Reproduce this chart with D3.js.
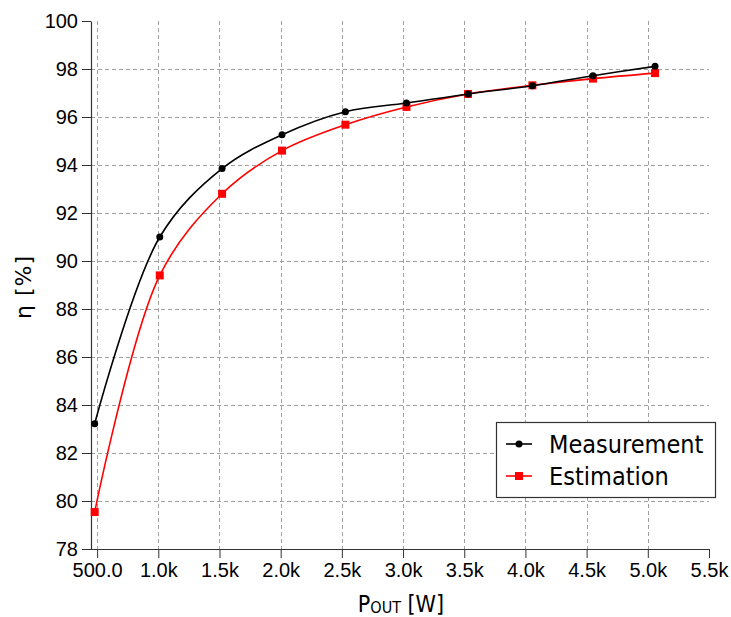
<!DOCTYPE html>
<html>
<head>
<meta charset="utf-8">
<script src="https://cdn.jsdelivr.net/npm/d3@7"></script>
<style>
  body { margin: 0; background: #fff; }
  svg { font-family: "DejaVu Sans Condensed", "DejaVu Sans", sans-serif; }
</style>
</head>
<body>
<div id="chart"></div>
<script>
// Output power [W] and efficiency [%]
const pOut = [480, 1012, 1521, 2011, 2529, 3028, 3531, 4057, 4552, 5059];
const measurement = [83.22, 91.0, 93.85, 95.26, 96.22, 96.58, 96.96, 97.30, 97.72, 98.11];
const estimation = [79.54, 89.4, 92.8, 94.6, 95.68, 96.42, 96.96, 97.32, 97.6, 97.83];
const xTicks = [500, 1000, 1500, 2000, 2500, 3000, 3500, 4000, 4500, 5000, 5500];
const yTicks = [78, 80, 82, 84, 86, 88, 90, 92, 94, 96, 98, 100];

const width = 731;
const height = 617;
const plotL = 91, plotR = 709, plotT = 21, plotB = 549;

const svg = d3.select('#chart').append('svg')
  .attr('width', width)
  .attr('height', height);

const x = d3.scaleLinear().domain([450, 5500]).range([plotL, plotR]);
const y = d3.scaleLinear().domain([78, 100]).range([plotB, plotT]);

const fmtX = v => v < 1000 ? d3.format('.1f')(v) : (v / 1000).toFixed(1) + 'k';

// grid
const grid = svg.append('g')
  .attr('stroke', '#a0a0a0')
  .attr('stroke-width', 1)
  .attr('stroke-dasharray', '4,3');
grid.selectAll('line.v')
  .data(xTicks.filter(d => d < 5500))
  .join('line')
  .attr('x1', d => Math.round(x(d)) + 0.5)
  .attr('x2', d => Math.round(x(d)) + 0.5)
  .attr('y1', plotT)
  .attr('y2', plotB);
grid.selectAll('line.h')
  .data(yTicks.filter(d => d > 78 && d < 100))
  .join('line')
  .attr('x1', plotL)
  .attr('x2', plotR)
  .attr('y1', d => Math.round(y(d)) + 0.5)
  .attr('y2', d => Math.round(y(d)) + 0.5);

// axes
const xAxis = svg.append('g')
  .attr('transform', `translate(0,${plotB})`)
  .call(d3.axisBottom(x).tickValues(xTicks).tickFormat(fmtX).tickSize(9).tickSizeOuter(0).tickPadding(5));
const yAxis = svg.append('g')
  .attr('transform', `translate(${plotL},0)`)
  .call(d3.axisLeft(y).tickValues(yTicks).tickSize(9).tickSizeOuter(0).tickPadding(4));

[xAxis, yAxis].forEach(a => {
  a.select('.domain').attr('stroke', '#333').attr('stroke-width', 1.2);
  a.selectAll('.tick line').attr('stroke', '#333');
  a.selectAll('.tick text').attr('font-size', 20).attr('fill', '#000');
});
xAxis.select('.domain').attr('d', `M${plotL},0.5H${plotR}`);

// axis titles
svg.append('text')
  .attr('transform', 'translate(31,287) rotate(-90)')
  .attr('text-anchor', 'middle')
  .attr('font-family', '"DejaVu Sans", sans-serif')
  .attr('font-size', 22)
  .attr('letter-spacing', 1)
  .text('η [%]');

const xt = svg.append('text')
  .attr('x', 401)
  .attr('y', 612)
  .attr('text-anchor', 'middle')
  .attr('font-size', 23);
xt.append('tspan').text('P');
xt.append('tspan').attr('font-size', 16).attr('dy', 1).text('OUT');
xt.append('tspan').attr('dy', -1).text(' [W]');

// series
const line = d3.line()
  .x(d => x(d[0]))
  .y(d => y(d[1]))
  .curve(d3.curveCatmullRom.alpha(0.5));

const mPts = pOut.map((p, i) => [p, measurement[i]]);
const ePts = pOut.map((p, i) => [p, estimation[i]]);

svg.append('path')
  .datum(ePts)
  .attr('fill', 'none')
  .attr('stroke', '#ff0000')
  .attr('stroke-width', 1.6)
  .attr('d', line);
svg.append('g').selectAll('rect')
  .data(ePts)
  .join('rect')
  .attr('x', d => x(d[0]) - 4)
  .attr('y', d => y(d[1]) - 4)
  .attr('width', 8)
  .attr('height', 8)
  .attr('fill', '#ff0000');

svg.append('path')
  .datum(mPts)
  .attr('fill', 'none')
  .attr('stroke', '#000')
  .attr('stroke-width', 1.6)
  .attr('d', line);
svg.append('g').selectAll('circle')
  .data(mPts)
  .join('circle')
  .attr('cx', d => x(d[0]))
  .attr('cy', d => y(d[1]))
  .attr('r', 3.5)
  .attr('fill', '#000');

// legend
const legend = svg.append('g');
legend.append('rect')
  .attr('x', 496.5)
  .attr('y', 422.5)
  .attr('width', 219)
  .attr('height', 75)
  .attr('fill', '#fff')
  .attr('stroke', '#333')
  .attr('stroke-width', 1.2);
const items = [
  { name: 'Measurement', color: '#000', shape: 'circle', y: 444 },
  { name: 'Estimation', color: '#ff0000', shape: 'square', y: 476 },
];
items.forEach(it => {
  legend.append('line')
    .attr('x1', 506).attr('x2', 532)
    .attr('y1', it.y).attr('y2', it.y)
    .attr('stroke', it.color).attr('stroke-width', 1.6);
  if (it.shape === 'circle') {
    legend.append('circle').attr('cx', 519).attr('cy', it.y).attr('r', 3.5).attr('fill', it.color);
  } else {
    legend.append('rect').attr('x', 515).attr('y', it.y - 4).attr('width', 8).attr('height', 8).attr('fill', it.color);
  }
  legend.append('text')
    .attr('x', 549)
    .attr('y', it.y + 9)
    .attr('font-size', 25)
    .text(it.name);
});
</script>
</body>
</html>
